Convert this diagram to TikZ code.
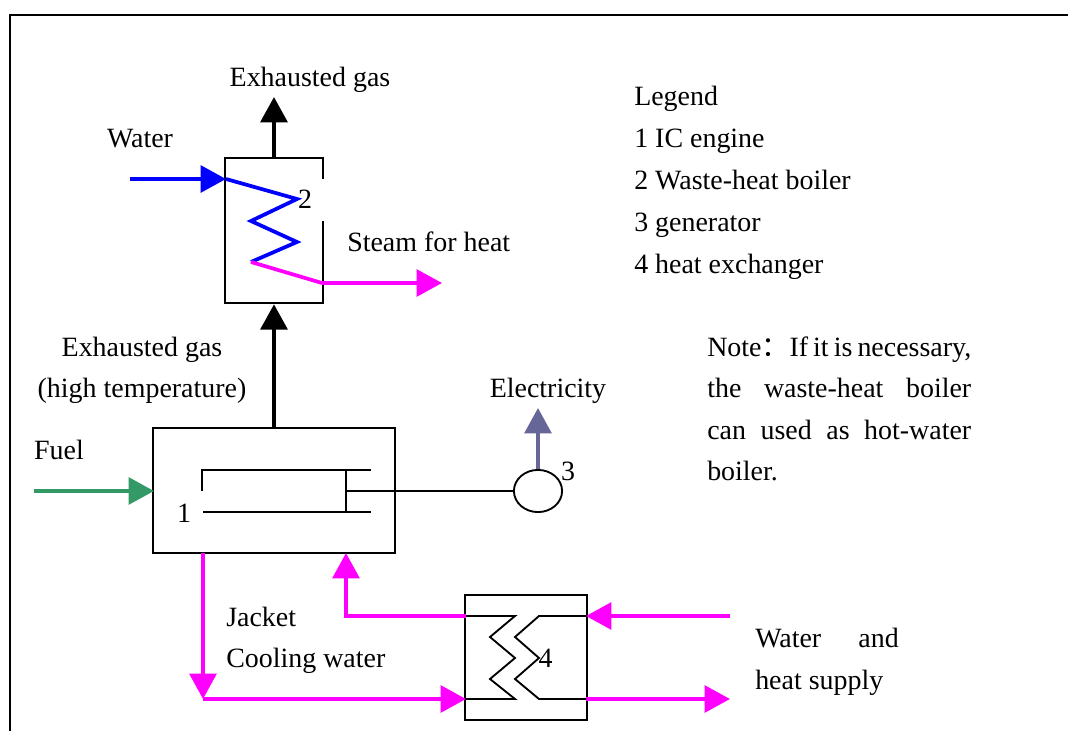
\documentclass[tikz,border=0pt]{standalone}
\usepackage{fontspec}
\setmainfont{Liberation Serif}
\newfontfamily\cjkfont{Noto Sans CJK SC}
\usetikzlibrary{arrows.meta,calc,shapes.geometric}
\definecolor{pinkflow}{HTML}{FF00FF}
\definecolor{blueflow}{HTML}{0000FF}
\definecolor{fuelflow}{HTML}{339966}
\definecolor{elecflow}{HTML}{666699}
\tikzset{
  x=0.75pt,y=-0.75pt,
  lbl/.style={font=\fontsize{20.95pt}{26pt}\selectfont,inner sep=0pt,text=black},
  lw/.style={lbl,anchor=base west},
  lc/.style={lbl,anchor=base},
  unit/.style={draw=black,line width=1.5pt,fill=none,inner sep=0pt,rectangle},
  thin line/.style={draw=black,line width=1.4pt},
  flow/.style={line width=#1,-{Triangle[length=19pt,width=20pt]}},
  flow/.default=2.9pt,
  coil/.style={line width=2.8pt,line join=miter}
}
\begin{document}
\begin{tikzpicture}
\useasboundingbox (0,0) rectangle (1068,731);
% frame
\coordinate (fbl) at (10,731);
\coordinate (ftl) at (10,15);
\coordinate (ftr) at (1068,15);
\draw[line width=1.9pt] (fbl) -- (ftl) -- (ftr);
% units
\node[unit,minimum width=72.5bp,minimum height=108.75bp] (boiler) at (274,230.5) {};
\node[unit,minimum width=180.5bp,minimum height=94bp] (engine) at (274,490.5) {};
\node[unit,minimum width=90.5bp,minimum height=94bp] (hx) at (526,657.5) {};
\node[draw=black,line width=1.4pt,ellipse,inner sep=0pt,minimum width=36bp,minimum height=31.5bp] (gen) at (538,491) {};
% gap in the right side of the boiler
\coordinate (gapa) at (322.5,179);
\coordinate (gapb) at (322.5,221);
\draw[white,line width=2.4pt] (gapa) -- (gapb);
% coordinates
\coordinate (exTop) at (274,97);
\coordinate (wStart) at (130,179);
\coordinate (wIn) at (226,179);
\coordinate (z1) at (297,199);
\coordinate (z2) at (251,221);
\coordinate (z3) at (297,242);
\coordinate (z4) at (251,262);
\coordinate (sOut) at (322,283);
\coordinate (sEnd) at (442,283);
\coordinate (fStart) at (34,491);
\coordinate (fIn) at (154,491);
\coordinate (eEnd) at (538,408);
% boiler flows
\draw[flow=3.2pt] (boiler.north) -- (exTop);
\draw[flow=3.2pt] (engine.north) -- (boiler.south);
\draw[flow,blueflow] (wStart) -- (wIn);
\draw[coil,blueflow] (wIn) -- (z1) -- (z2) -- (z3) -- (z4);
\draw[coil,pinkflow] (z4) -- (sOut);
\draw[flow,pinkflow] (sOut) -- (sEnd);
% engine
\draw[flow,fuelflow] (fStart) -- (fIn);
\coordinate (cTL) at (202,470);
\coordinate (cTR) at (371,470);
\coordinate (cBL) at (203,512);
\coordinate (cBR) at (371,512);
\coordinate (cL) at (202,491);
\coordinate (pT) at (346,470);
\coordinate (pB) at (346,512);
\coordinate (pM) at (346,491);
\draw[thin line] (cL) -- (cTL) -- (cTR);
\draw[thin line] (cBL) -- (cBR);
\draw[thin line] (pT) -- (pB);
\draw[thin line] (pM) -- (gen.west);
\draw[flow,elecflow] (gen.north) -- (eEnd);
% jacket loop
\coordinate (jOut) at (203,553);
\coordinate (jCorner) at (203,699);
\coordinate (hxIn) at (466,699);
\coordinate (hxOutL) at (466,616);
\coordinate (jBack) at (346,616);
\coordinate (jIn) at (346,553);
\coordinate (hxR1) at (586,616);
\coordinate (hxR2) at (586,699);
\coordinate (sup1) at (730,616);
\coordinate (sup2) at (730,699);
\draw[flow,pinkflow] (jOut) -- (jCorner);
\draw[flow,pinkflow] (jCorner) -- (hxIn);
\draw[flow,pinkflow,line join=miter] (hxOutL) -- (jBack) -- (jIn);
\draw[flow,pinkflow] (sup1) -- (hxR1);
\draw[flow,pinkflow] (hxR2) -- (sup2);
% exchanger internals
\draw[thin line,line join=miter] (hxOutL) -- (515,616) -- (490,637) -- (515,658) -- (490,679) -- (515,699) -- (hxIn);
\draw[thin line,line join=miter] (hxR1) -- (539,616) -- (515,637) -- (539,658) -- (515,679) -- (539,699) -- (hxR2);
% labels
\node[lc] (t1) at (310,87) {Exhausted gas};
\node[lc] (t2) at (140,148) {Water};
\node[lw] (t3) at (347,252) {Steam for heat};
\node[lc] (t4) at (142,356) {Exhausted gas};
\node[lc] (t5) at (142,397) {(high temperature)};
\node[lc] (t6) at (548,397) {Electricity};
\node[lc] (t7) at (59,459) {Fuel};
\node[lc] (n1) at (184,522) {1};
\node[lc] (n2) at (305,209) {2};
\node[lc] (n3) at (568,480) {3};
\node[lc] (n4) at (545.5,667) {4};
\node[lw] (t8) at (226,626) {Jacket};
\node[lw] (t9) at (226,667) {Cooling water};
\node[lw] (t10) at (755,647) {\makebox[107.25bp][s]{Water and}};
\node[lw] (t11) at (755,689) {heat supply};
\node[lw] (l0) at (634,106) {Legend};
\node[lw] (l1) at (634,148) {1 IC engine};
\node[lw] (l2) at (634,190) {2 Waste-heat boiler};
\node[lw] (l3) at (634,232) {3 generator};
\node[lw] (l4) at (634,273) {4 heat exchanger};
\node[lw] (no1) at (707,356) {\makebox[197.25bp][s]{Note{\cjkfont ：}If it is necessary,}};
\node[lw] (no2) at (707,397) {\makebox[197.25bp][s]{the waste-heat boiler}};
\node[lw] (no3) at (707,439) {\makebox[197.25bp][s]{can used as hot-water}};
\node[lw] (no4) at (707,480) {boiler.};
\end{tikzpicture}
\end{document}
